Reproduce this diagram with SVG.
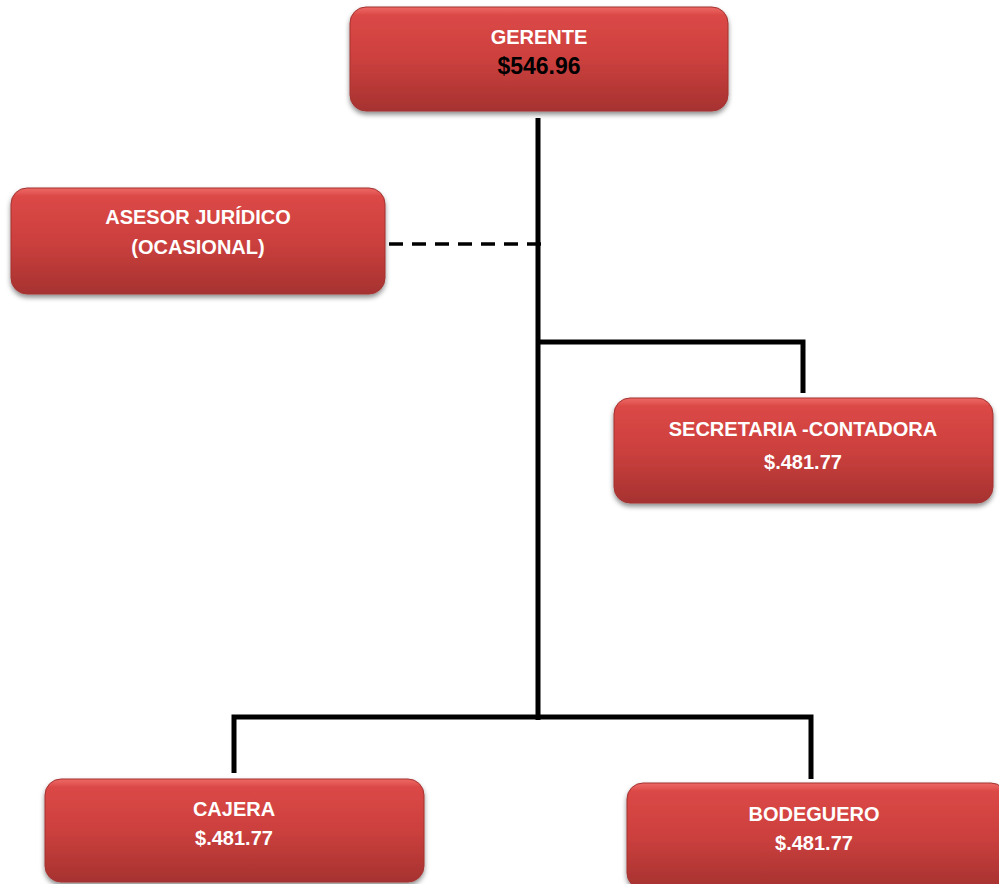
<svg xmlns="http://www.w3.org/2000/svg" width="999" height="884" viewBox="0 0 999 884">
<defs>
<linearGradient id="g" x1="0" y1="0" x2="0" y2="1">
<stop offset="0" stop-color="#ee6a66"/>
<stop offset="0.08" stop-color="#db4846"/>
<stop offset="0.5" stop-color="#cc403e"/>
<stop offset="1" stop-color="#a63230"/>
</linearGradient>
<filter id="sh" x="-5%" y="-10%" width="110%" height="130%">
<feDropShadow dx="0" dy="3" stdDeviation="2.5" flood-color="#000" flood-opacity="0.45"/>
</filter>
<style>
.box{fill:url(#g);stroke:#a33331;stroke-width:1;filter:url(#sh)}
.t{font-family:"Liberation Sans",Arial,sans-serif;font-weight:bold;font-size:20px;fill:#fff;text-anchor:middle}
.k{font-family:"Liberation Sans",Arial,sans-serif;font-weight:bold;font-size:23px;fill:#000;text-anchor:middle}
.ln{stroke:#000;stroke-width:5;fill:none}
.dash{stroke:#000;stroke-width:3.5;stroke-dasharray:14,9;fill:none}
</style>
</defs>
<rect width="999" height="884" fill="#fff"/>
<g id="connectors">
<line class="ln" x1="538" y1="118" x2="538" y2="720"/>
<line class="dash" x1="389" y1="244" x2="545" y2="244"/>
<polyline class="ln" points="538,342 803,342 803,393"/>
<polyline class="ln" points="234,773 234,717 811,717 811,779"/>
</g>
<g id="gerente">
<rect class="box" x="350" y="7" width="378" height="104" rx="16"/>
<text class="t" x="539" y="44">GERENTE</text>
<text class="k" x="539" y="74">$546.96</text>
</g>
<g id="asesor">
<rect class="box" x="11" y="188" width="374" height="106" rx="16"/>
<text class="t" x="198" y="224">ASESOR JURÍDICO</text>
<text class="t" x="198" y="254">(OCASIONAL)</text>
</g>
<g id="secretaria">
<rect class="box" x="614" y="398" width="379" height="105" rx="16"/>
<text class="t" x="803" y="436">SECRETARIA -CONTADORA</text>
<text class="t" x="803" y="469">$.481.77</text>
</g>
<g id="cajera">
<rect class="box" x="45" y="779" width="379" height="103" rx="16"/>
<text class="t" x="234" y="816">CAJERA</text>
<text class="t" x="234" y="845">$.481.77</text>
</g>
<g id="bodeguero">
<rect class="box" x="627" y="783" width="380" height="106" rx="16"/>
<text class="t" x="814" y="821">BODEGUERO</text>
<text class="t" x="814" y="850">$.481.77</text>
</g>
</svg>
